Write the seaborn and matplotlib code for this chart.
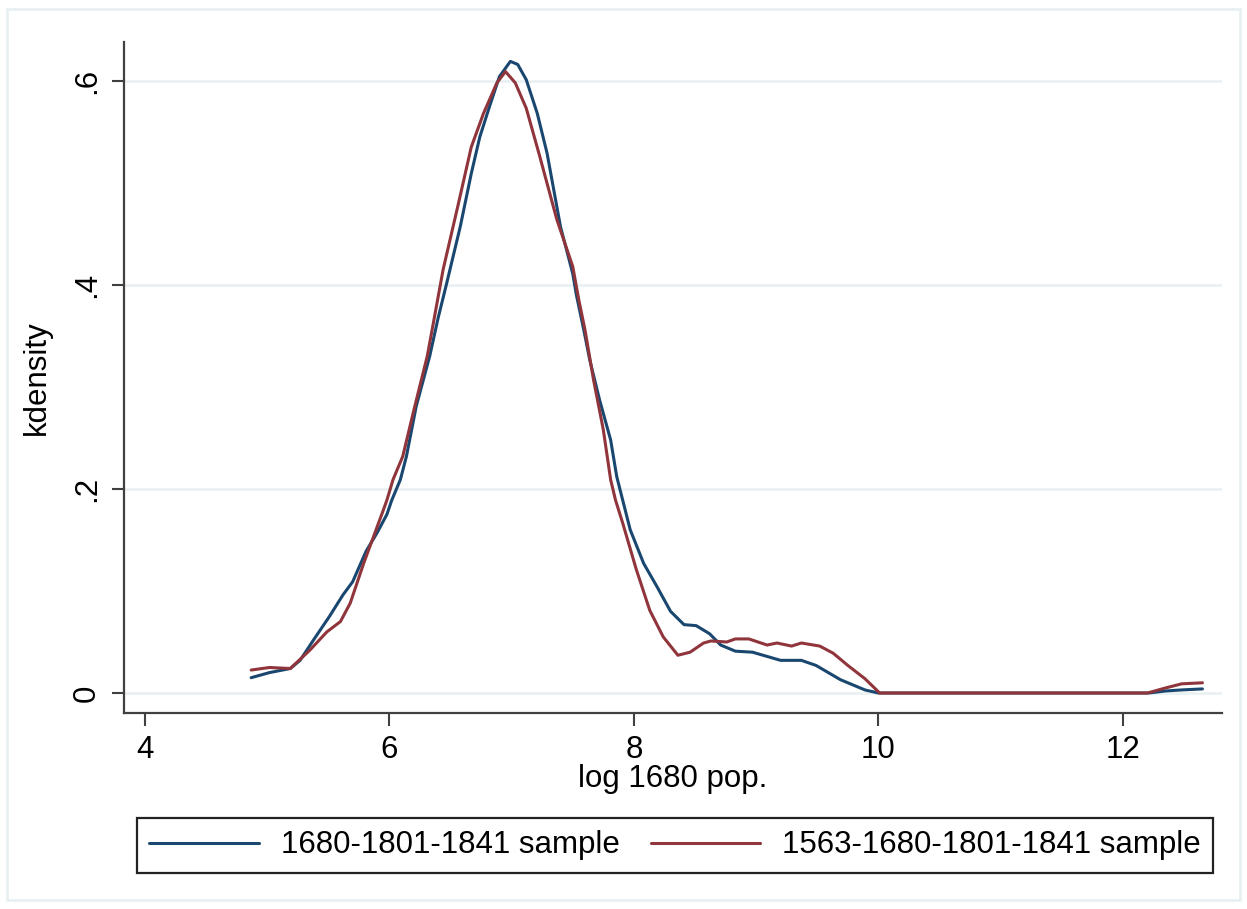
import numpy as np
import pandas as pd
import matplotlib
matplotlib.use("Agg")
import matplotlib.pyplot as plt
import seaborn as sns
from matplotlib.patches import Rectangle

# kdensity of log 1680 population
x_blue = [4.87, 5.02, 5.19, 5.27, 5.38, 5.51, 5.62, 5.70, 5.81, 5.90, 5.98, 6.02,
          6.09, 6.14, 6.22, 6.33, 6.40, 6.47, 6.58, 6.67, 6.74, 6.82, 6.90, 6.99,
          7.05, 7.12, 7.21, 7.29, 7.40, 7.50, 7.53, 7.59, 7.64, 7.72, 7.81, 7.86,
          7.97, 8.08, 8.19, 8.30, 8.41, 8.51, 8.62, 8.71, 8.83, 8.97, 9.20, 9.37,
          9.49, 9.69, 9.89, 10.0, 12.21, 12.35, 12.48, 12.65]
y_blue = [0.015, 0.020, 0.024, 0.032, 0.052, 0.075, 0.096, 0.109, 0.139, 0.157, 0.175, 0.189,
          0.209, 0.232, 0.281, 0.330, 0.368, 0.402, 0.457, 0.509, 0.545, 0.575, 0.604, 0.619,
          0.616, 0.601, 0.568, 0.529, 0.457, 0.411, 0.390, 0.356, 0.326, 0.287, 0.248, 0.212,
          0.160, 0.127, 0.104, 0.080, 0.067, 0.066, 0.058, 0.047, 0.041, 0.040, 0.032, 0.032,
          0.027, 0.013, 0.003, 0.0, 0.0, 0.002, 0.003, 0.004]

x_red = [4.87, 5.02, 5.19, 5.35, 5.49, 5.60, 5.68, 5.79, 5.87, 5.95, 5.98, 6.03,
         6.11, 6.20, 6.31, 6.35, 6.44, 6.56, 6.67, 6.77, 6.88, 6.95, 7.03, 7.12,
         7.23, 7.37, 7.50, 7.55, 7.60, 7.67, 7.75, 7.81, 7.85, 7.91, 8.02, 8.13,
         8.24, 8.36, 8.46, 8.57, 8.63, 8.76, 8.83, 8.94, 9.09, 9.17, 9.29, 9.37,
         9.52, 9.63, 9.75, 9.89, 10.01, 12.20, 12.35, 12.48, 12.65]
y_red = [0.0225, 0.025, 0.024, 0.042, 0.060, 0.070, 0.088, 0.127, 0.153, 0.179, 0.189, 0.209,
         0.232, 0.277, 0.330, 0.356, 0.415, 0.477, 0.535, 0.568, 0.598, 0.609, 0.598, 0.573,
         0.526, 0.464, 0.418, 0.385, 0.356, 0.307, 0.258, 0.209, 0.189, 0.166, 0.121, 0.081,
         0.055, 0.037, 0.040, 0.049, 0.051, 0.050, 0.053, 0.053, 0.047, 0.049, 0.046, 0.049,
         0.046, 0.039, 0.027, 0.014, 0.0, 0.0, 0.005, 0.009, 0.010]

labels = ["1680-1801-1841 sample", "1563-1680-1801-1841 sample"]
x_ticks = [4, 6, 8, 10, 12]
y_ticks = [0, 0.2, 0.4, 0.6]
y_tick_labels = ["0", ".2", ".4", ".6"]

sns.set_theme(style="white")
plt.rcParams["font.family"] = ["Liberation Sans", "DejaVu Sans"]
plt.rcParams["text.color"] = "black"
plt.rcParams["axes.labelcolor"] = "black"

navy = "#1a476f"
maroon = "#90353b"
grid_c = "#e8f0f2"
axis_c = "#404040"
fs = 22.5

W, H = 1247, 909
fig = plt.figure(figsize=(W / 100, H / 100), dpi=100)
ax = fig.add_axes([124 / W, 1 - 713 / H, (1222 - 124) / W, (713 - 42) / H])

# light outer frame like Stata's graph region
fig.patches.append(Rectangle((7 / W, 1 - 900 / H), (1240 - 7) / W, (900 - 9) / H,
                             transform=fig.transFigure, fill=False,
                             edgecolor=grid_c, linewidth=2))

for yt in y_ticks:
    ax.axhline(yt, color=grid_c, lw=1.8, zorder=0)

sns.lineplot(x=x_blue, y=y_blue, ax=ax, color=navy, lw=2.2, label=labels[0],
             sort=False, estimator=None)
sns.lineplot(x=x_red, y=y_red, ax=ax, color=maroon, lw=2.2, label=labels[1],
             sort=False, estimator=None)

ax.set_xlim(3.83, 12.81)
ax.set_ylim(-0.0196, 0.638)
ax.set_xticks(x_ticks)
ax.set_xticklabels([str(t) for t in x_ticks])
ax.set_yticks(y_ticks)
ax.set_yticklabels(y_tick_labels, rotation=90, va="center")

for s in ["top", "right"]:
    ax.spines[s].set_visible(False)
for s in ["left", "bottom"]:
    ax.spines[s].set_color(axis_c)
    ax.spines[s].set_linewidth(1.6)

ax.tick_params(axis="both", which="both", direction="out", length=9, width=1.5,
               color=axis_c, labelsize=fs, labelcolor="black", pad=7,
               bottom=True, left=True)

ax.set_xlabel("log 1680 pop.", fontsize=fs, labelpad=-1, color="black")
ax.set_ylabel("kdensity", fontsize=fs, labelpad=14, color="black")

ax.get_legend().remove()
handles, _ = ax.get_legend_handles_labels()
leg = fig.legend(handles, labels, loc="upper center", ncol=2,
                 bbox_to_anchor=(675 / W, 1 - 818 / H), bbox_transform=fig.transFigure,
                 fontsize=fs, frameon=True, fancybox=False, framealpha=1,
                 edgecolor="#222222", handlelength=3.5, handletextpad=0.7,
                 columnspacing=1.0, borderpad=0.4, borderaxespad=0)
leg.get_frame().set_linewidth(1.6)
for t in leg.get_texts():
    t.set_color("black")

fig.savefig("out.png", dpi=100, facecolor="white")
